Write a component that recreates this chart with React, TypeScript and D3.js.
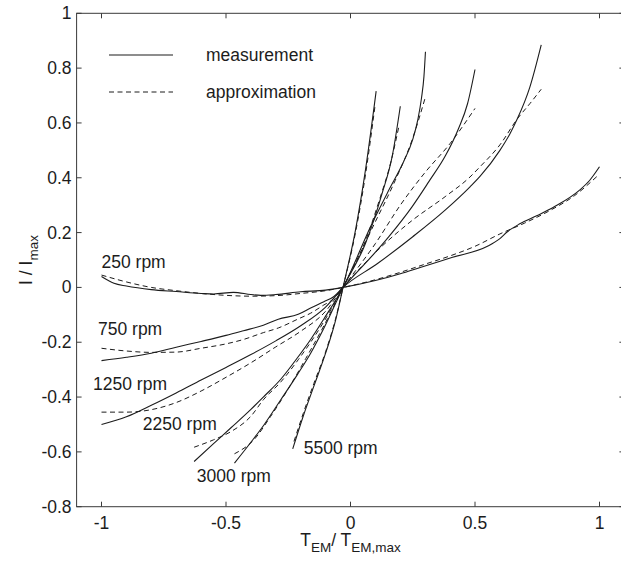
import * as d3 from 'd3';

// axis ticks
const xTicks = [-1, -0.5, 0, 0.5, 1];
const yTicks = [1, 0.8, 0.6, 0.4, 0.2, 0, -0.2, -0.4, -0.6, -0.8];

// measured curves (I/Imax vs TEM/TEM,max)
const m250x = [-1, -0.95, -0.9, -0.8, -0.7, -0.6, -0.55, -0.47, -0.4, -0.36, -0.3, -0.2, -0.1, -0.03, 0.1, 0.2, 0.28, 0.41, 0.55, 0.6, 0.63, 0.68, 0.75, 0.82, 0.92, 0.96, 1.0];
const m250y = [0.04, 0.015, 0.005, -0.008, -0.015, -0.022, -0.024, -0.018, -0.026, -0.029, -0.026, -0.016, -0.01, 0, 0.025, 0.05, 0.073, 0.11, 0.15, 0.178, 0.203, 0.232, 0.262, 0.295, 0.355, 0.39, 0.44];
const m750x = [-1, -0.9, -0.8, -0.7, -0.6, -0.5, -0.43, -0.35, -0.29, -0.21, -0.16, -0.107, -0.068, -0.03, 0.11, 0.25, 0.38, 0.48, 0.52, 0.6, 0.64, 0.67, 0.72, 0.766];
const m750y = [-0.267, -0.255, -0.24, -0.218, -0.197, -0.175, -0.158, -0.138, -0.116, -0.098, -0.075, -0.052, -0.034, 0, 0.088, 0.185, 0.282, 0.367, 0.405, 0.5, 0.56, 0.615, 0.73, 0.885];
const m1250x = [-1, -0.9, -0.8, -0.7, -0.6, -0.5, -0.4, -0.3, -0.2, -0.1, -0.03, 0.154, 0.247, 0.314, 0.381, 0.434, 0.47, 0.5];
const m1250y = [-0.5, -0.472, -0.43, -0.385, -0.338, -0.292, -0.245, -0.195, -0.14, -0.072, 0, 0.185, 0.294, 0.385, 0.48, 0.58, 0.67, 0.795];
const m2250x = [-0.628, -0.55, -0.48, -0.4, -0.35, -0.28, -0.21, -0.16, -0.107, -0.03, 0.087, 0.154, 0.214, 0.25, 0.27, 0.285, 0.295, 0.301];
const m2250y = [-0.635, -0.57, -0.512, -0.445, -0.4, -0.335, -0.253, -0.19, -0.115, 0, 0.234, 0.355, 0.46, 0.54, 0.61, 0.69, 0.77, 0.86];
const m3000x = [-0.466, -0.4, -0.347, -0.28, -0.214, -0.16, -0.107, -0.03, 0.06, 0.127, 0.167, 0.2];
const m3000y = [-0.641, -0.565, -0.501, -0.41, -0.319, -0.24, -0.149, 0, 0.16, 0.343, 0.476, 0.661];
const m5500x = [-0.232, -0.19, -0.147, -0.1, -0.06, -0.03, 0.02, 0.06, 0.103];
const m5500y = [-0.589, -0.47, -0.36, -0.24, -0.12, 0, 0.209, 0.428, 0.716];

// approximation curves
const a250x = [-1, -0.9, -0.8, -0.7, -0.6, -0.5, -0.4, -0.3, -0.2, -0.1, -0.03, 0.1, 0.2, 0.3, 0.4, 0.5, 0.6, 0.7, 0.8, 0.9, 0.99];
const a250y = [0.045, 0.02, 0.0, -0.012, -0.022, -0.029, -0.032, -0.03, -0.022, -0.012, 0, 0.028, 0.055, 0.085, 0.115, 0.15, 0.195, 0.235, 0.28, 0.335, 0.405];
const a750x = [-1, -0.9, -0.8, -0.7, -0.6, -0.5, -0.43, -0.35, -0.29, -0.21, -0.16, -0.107, -0.068, -0.03, 0.11, 0.25, 0.38, 0.48, 0.52, 0.6, 0.67, 0.72, 0.766];
const a750y = [-0.222, -0.232, -0.237, -0.236, -0.222, -0.206, -0.19, -0.165, -0.148, -0.115, -0.094, -0.064, -0.042, 0, 0.136, 0.246, 0.331, 0.403, 0.44, 0.52, 0.615, 0.67, 0.723];
const a1250x = [-1, -0.9, -0.8, -0.7, -0.6, -0.5, -0.4, -0.3, -0.2, -0.1, -0.03, 0.1, 0.2, 0.3, 0.4, 0.5];
const a1250y = [-0.455, -0.455, -0.446, -0.42, -0.378, -0.328, -0.275, -0.217, -0.16, -0.087, 0, 0.16, 0.3, 0.42, 0.525, 0.653];
const a2250x = [-0.628, -0.55, -0.48, -0.4, -0.35, -0.28, -0.21, -0.16, -0.107, -0.03, 0.1, 0.18, 0.247, 0.301];
const a2250y = [-0.583, -0.556, -0.526, -0.47, -0.41, -0.345, -0.264, -0.2, -0.125, 0, 0.24, 0.391, 0.537, 0.695];
const a3000x = [-0.466, -0.388, -0.321, -0.25, -0.18, -0.107, -0.03, 0.06, 0.12, 0.16, 0.194];
const a3000y = [-0.607, -0.556, -0.471, -0.37, -0.26, -0.14, 0, 0.17, 0.33, 0.45, 0.586];
const a5500x = [-0.227, -0.19, -0.147, -0.1, -0.06, -0.03, 0.02, 0.06, 0.098];
const a5500y = [-0.562, -0.46, -0.35, -0.235, -0.115, 0, 0.2, 0.41, 0.659];

const measured = [[m250x, m250y], [m750x, m750y], [m1250x, m1250y], [m2250x, m2250y], [m3000x, m3000y], [m5500x, m5500y]];
const approx = [[a250x, a250y], [a750x, a750y], [a1250x, a1250y], [a2250x, a2250y], [a3000x, a3000y], [a5500x, a5500y]];

// speed labels, anchored in data units (left edge, baseline)
const speedLabels = ['250 rpm', '750 rpm', '1250 rpm', '2250 rpm', '3000 rpm', '5500 rpm'];
const speedLabelX = [-1.0, -1.014, -1.034, -0.834, -0.617, -0.188];
const speedLabelY = [0.07, -0.173, -0.374, -0.52, -0.709, -0.607];

const W = 621;
const H = 563;
const font = 'Liberation Sans, Arial, Helvetica, sans-serif';
const fs = 17.5;
const ink = '#1c1c1c';
const axisInk = '#3a3a3a';

export default function App() {
    const x = d3.scaleLinear().domain([-1.1, 1.1]).range([76.6, 624.4]);
    const y = d3.scaleLinear().domain([-0.8, 1]).range([506.7, 13.3]);
    const [x0, x1] = x.range();
    const [y0, y1] = y.range();
    const tick = 5;

    const line = d3.line<[number, number]>()
        .x(d => x(d[0]))
        .y(d => y(d[1]))
        .curve(d3.curveMonotoneX);

    const toPts = (xs: number[], ys: number[]) => xs.map((v, i) => [v, ys[i]] as [number, number]);
    const fmt = (v: number) => String(+v.toFixed(1));

    return (
        <svg width={W} height={H} style={{ position: 'absolute', left: 0, top: 0, background: '#fff' }}
            fontFamily={font}>
            <rect x={0} y={0} width={W} height={H} fill="#fff" />

            {/* axes box */}
            <rect x={x0} y={y1} width={x1 - x0} height={y0 - y1} fill="none" stroke={axisInk} strokeWidth={1} />

            {xTicks.map(t => (
                <g key={'xt' + t}>
                    <line x1={x(t)} x2={x(t)} y1={y0} y2={y0 - tick} stroke={axisInk} />
                    <line x1={x(t)} x2={x(t)} y1={y1} y2={y1 + tick} stroke={axisInk} />
                    <text x={x(t)} y={y0 + 22} textAnchor="middle" fontSize={fs} fill={ink}>{fmt(t)}</text>
                </g>
            ))}
            {yTicks.map(t => (
                <g key={'yt' + t}>
                    <line x1={x0} x2={x0 + tick} y1={y(t)} y2={y(t)} stroke={axisInk} />
                    <line x1={x1} x2={x1 - tick} y1={y(t)} y2={y(t)} stroke={axisInk} />
                    <text x={x0 - 5} y={y(t) + 6} textAnchor="end" fontSize={fs} fill={ink}>{fmt(t)}</text>
                </g>
            ))}

            {/* curves */}
            {approx.map(([xs, ys], i) => (
                <path key={'a' + i} d={line(toPts(xs, ys)) || ''} fill="none" stroke={ink}
                    strokeWidth={1} strokeDasharray="5,3.5" />
            ))}
            {measured.map(([xs, ys], i) => (
                <path key={'m' + i} d={line(toPts(xs, ys)) || ''} fill="none" stroke={ink} strokeWidth={1.1} />
            ))}

            {/* speed labels */}
            {speedLabels.map((s, i) => (
                <text key={s} x={x(speedLabelX[i])} y={y(speedLabelY[i])} fontSize={fs} fill={ink}>{s}</text>
            ))}

            {/* legend */}
            <line x1={109} x2={173} y1={55} y2={55} stroke={ink} strokeWidth={1.1} />
            <text x={206} y={61} fontSize={fs} fill={ink}>measurement</text>
            <line x1={109} x2={173} y1={92} y2={92} stroke={ink} strokeWidth={1} strokeDasharray="5,3.5" />
            <text x={206} y={98} fontSize={fs} fill={ink}>approximation</text>

            {/* axis titles */}
            <text x={(x0 + x1) / 2} y={546} textAnchor="middle" fontSize={fs} fill={ink}>
                T<tspan fontSize={13.5} dy={6}>EM</tspan><tspan dy={-6}>/ T</tspan><tspan fontSize={13.5} dy={6}>EM,max</tspan>
            </text>
            <text transform={`translate(32,${(y0 + y1) / 2}) rotate(-90)`} textAnchor="middle" fontSize={fs} fill={ink}>
                I / I<tspan fontSize={13.5} dy={6}>max</tspan>
            </text>
        </svg>
    );
}
